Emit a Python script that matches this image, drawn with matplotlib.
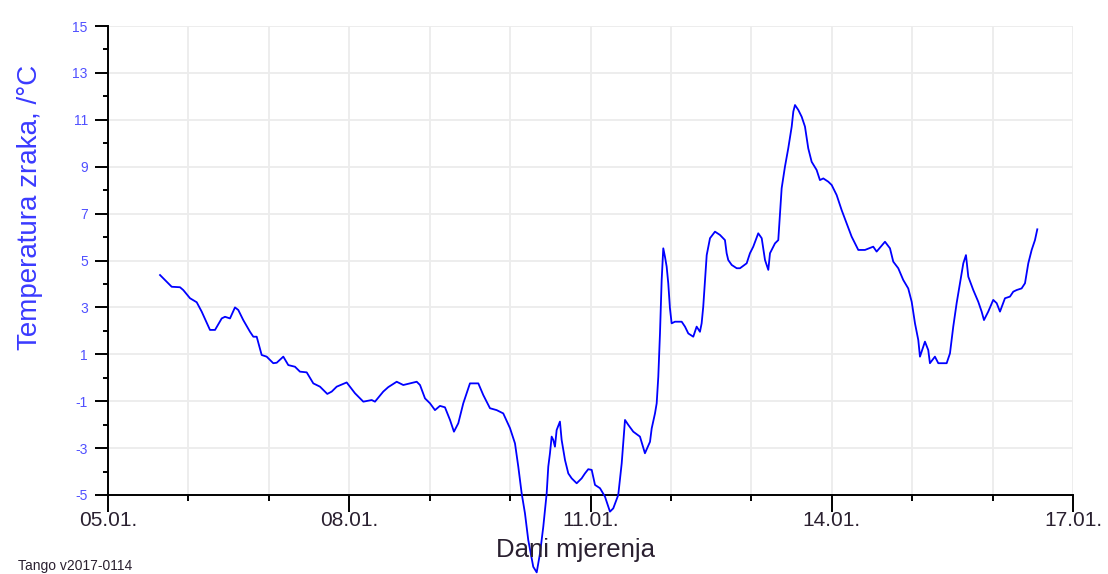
import matplotlib
matplotlib.use("Agg")
import matplotlib.pyplot as plt
from matplotlib.ticker import MultipleLocator, FixedLocator

# Time in days since 05.01. 00:00, air temperature in °C
days = [0.647, 0.688, 0.792, 0.895, 0.936, 1.020, 1.103, 1.165, 1.268, 1.331,
        1.414, 1.455, 1.517, 1.579, 1.620, 1.682, 1.766, 1.807, 1.849, 1.911,
        1.973, 2.055, 2.098, 2.180, 2.242, 2.325, 2.387, 2.471, 2.553, 2.636,
        2.727, 2.782, 2.844, 2.968, 3.071, 3.175, 3.279, 3.320, 3.423, 3.485,
        3.590, 3.672, 3.755, 3.839, 3.880, 3.942, 4.004, 4.066, 4.128, 4.190,
        4.253, 4.302, 4.356, 4.418, 4.501, 4.605, 4.667, 4.750, 4.833, 4.915,
        4.999, 5.061, 5.102, 5.144, 5.185, 5.226, 5.288, 5.331, 5.372, 5.413,
        5.455, 5.475, 5.496, 5.517, 5.537, 5.558, 5.579, 5.620, 5.641, 5.683,
        5.724, 5.766, 5.828, 5.890, 5.931, 5.972, 6.015, 6.056, 6.118, 6.180,
        6.242, 6.283, 6.345, 6.388, 6.429, 6.470, 6.532, 6.615, 6.677, 6.740,
        6.761, 6.802, 6.823, 6.843, 6.864, 6.885, 6.905, 6.926, 6.947, 6.967,
        6.988, 7.009, 7.050, 7.134, 7.175, 7.216, 7.278, 7.320, 7.361, 7.382,
        7.402, 7.424, 7.445, 7.486, 7.548, 7.610, 7.672, 7.693, 7.713, 7.756,
        7.818, 7.859, 7.942, 7.983, 8.024, 8.086, 8.129, 8.170, 8.211, 8.232,
        8.294, 8.335, 8.356, 8.377, 8.418, 8.459, 8.502, 8.522, 8.543, 8.584,
        8.626, 8.667, 8.708, 8.750, 8.812, 8.853, 8.895, 8.957, 8.999, 9.061,
        9.123, 9.185, 9.247, 9.330, 9.413, 9.516, 9.558, 9.662, 9.724, 9.765,
        9.827, 9.889, 9.951, 9.994, 10.035, 10.076, 10.097, 10.159, 10.200, 10.221,
        10.283, 10.325, 10.429, 10.470, 10.511, 10.553, 10.594, 10.636, 10.669, 10.698,
        10.760, 10.822, 10.864, 10.893, 10.946, 11.008, 11.051, 11.092, 11.154, 11.216,
        11.257, 11.299, 11.361, 11.403, 11.444, 11.486, 11.527, 11.556]

temps = [4.38, 4.24, 3.88, 3.86, 3.74, 3.39, 3.22, 2.82, 2.04, 2.04,
         2.53, 2.60, 2.53, 3.00, 2.89, 2.46, 1.96, 1.75, 1.75, 0.97,
         0.90, 0.62, 0.64, 0.90, 0.54, 0.47, 0.26, 0.23, -0.24, -0.38,
         -0.69, -0.59, -0.38, -0.20, -0.66, -1.02, -0.95, -1.02, -0.59, -0.40,
         -0.17, -0.31, -0.24, -0.17, -0.31, -0.88, -1.09, -1.38, -1.20, -1.26,
         -1.80, -2.30, -1.94, -1.09, -0.24, -0.24, -0.74, -1.30, -1.38, -1.52,
         -2.15, -2.80, -3.79, -4.93, -5.78, -6.92, -8.06, -8.30, -7.49, -6.35,
         -4.93, -3.79, -3.22, -2.51, -2.65, -2.94, -2.23, -1.87, -2.65, -3.51,
         -4.08, -4.29, -4.50, -4.29, -4.08, -3.90, -3.93, -4.57, -4.71, -5.07,
         -5.71, -5.57, -5.00, -3.65, -1.80, -2.01, -2.30, -2.51, -3.22, -2.73,
         -2.16, -1.52, -1.09, 0.04, 1.89, 4.17, 5.52, 5.16, 4.74, 4.03,
         2.96, 2.32, 2.39, 2.39, 2.18, 1.89, 1.75, 2.18, 1.96, 2.32,
         3.03, 4.17, 5.23, 5.95, 6.23, 6.09, 5.87, 5.31, 5.02, 4.81,
         4.67, 4.67, 4.88, 5.31, 5.59, 6.16, 5.95, 5.02, 4.60, 5.31,
         5.73, 5.87, 6.94, 8.08, 9.00, 9.78, 10.71, 11.35, 11.63, 11.42,
         11.13, 10.71, 9.78, 9.21, 8.86, 8.43, 8.50, 8.36, 8.22, 7.79,
         7.15, 6.59, 6.02, 5.45, 5.45, 5.59, 5.38, 5.80, 5.52, 4.95,
         4.67, 4.17, 3.81, 3.24, 2.32, 1.61, 0.90, 1.54, 1.18, 0.62,
         0.90, 0.62, 0.62, 1.04, 2.18, 3.18, 4.03, 4.88, 5.23, 4.31,
         3.74, 3.24, 2.82, 2.46, 2.82, 3.32, 3.18, 2.82, 3.39, 3.46,
         3.67, 3.74, 3.81, 4.03, 4.88, 5.45, 5.87, 6.33]

x_tick_pos = [0, 3, 6, 9, 12]
x_tick_labels = ["05.01.", "08.01.", "11.01.", "14.01.", "17.01."]
y_tick_pos = [15, 13, 11, 9, 7, 5, 3, 1, -1, -3, -5]
y_tick_labels = ["15", "13", "11", "9", "7", "5", "3", "1", "-1", "-3", "-5"]

plt.rcParams['font.family'] = ['Liberation Sans', 'DejaVu Sans']

fig = plt.figure(figsize=(11.08, 5.74), dpi=100)
ax = fig.add_axes([108/1108, 1 - 495/574, (1073 - 108)/1108, (495 - 26)/574])

ax.plot(days, temps, color='#0000ff', lw=1.3, clip_on=False, zorder=3)

ax.set_xlim(0, 12)
ax.set_ylim(-5, 15)

ax.xaxis.set_major_locator(FixedLocator(x_tick_pos))
ax.set_xticklabels(x_tick_labels)
ax.xaxis.set_minor_locator(MultipleLocator(1))
ax.yaxis.set_major_locator(FixedLocator(y_tick_pos))
ax.set_yticklabels(y_tick_labels)
ax.yaxis.set_minor_locator(MultipleLocator(2))

ax.grid(True, which='minor', axis='x', color='#ececec', lw=1.3, zorder=0)
ax.grid(True, which='major', axis='x', color='#ececec', lw=1.3, zorder=0)
ax.grid(True, which='major', axis='y', color='#ececec', lw=1.3, zorder=0)
ax.set_axisbelow(True)

for s in ['top', 'right']:
    ax.spines[s].set_visible(False)
for s in ['left', 'bottom']:
    ax.spines[s].set_color('black')
    ax.spines[s].set_linewidth(1.4)

ax.tick_params(axis='x', which='major', direction='out', length=12, width=1.4,
               pad=-0.5, labelsize=15, labelcolor='#2a2030')
ax.tick_params(axis='x', which='minor', direction='out', length=4, width=1.4)
ax.tick_params(axis='y', which='major', direction='out', length=9.5, width=1.4,
               pad=5, labelsize=10, labelcolor='#5050ff')
ax.tick_params(axis='y', which='minor', direction='out', length=3.8, width=1.4)

fig.text(30/1108, 1 - 207/574, "Temperatura zraka, /°C", rotation=90,
         ha='center', va='center', fontsize=20, color='#3a3aff')
fig.text(575/1108, 1 - 550/574, "Dani mjerenja", ha='center', va='center',
         fontsize=18.5, color='#2a2030')
fig.text(18/1108, 1 - 566/574, "Tango v2017-0114", ha='left', va='center',
         fontsize=10, color='#2a2030')

fig.savefig("out.png", dpi=100)
